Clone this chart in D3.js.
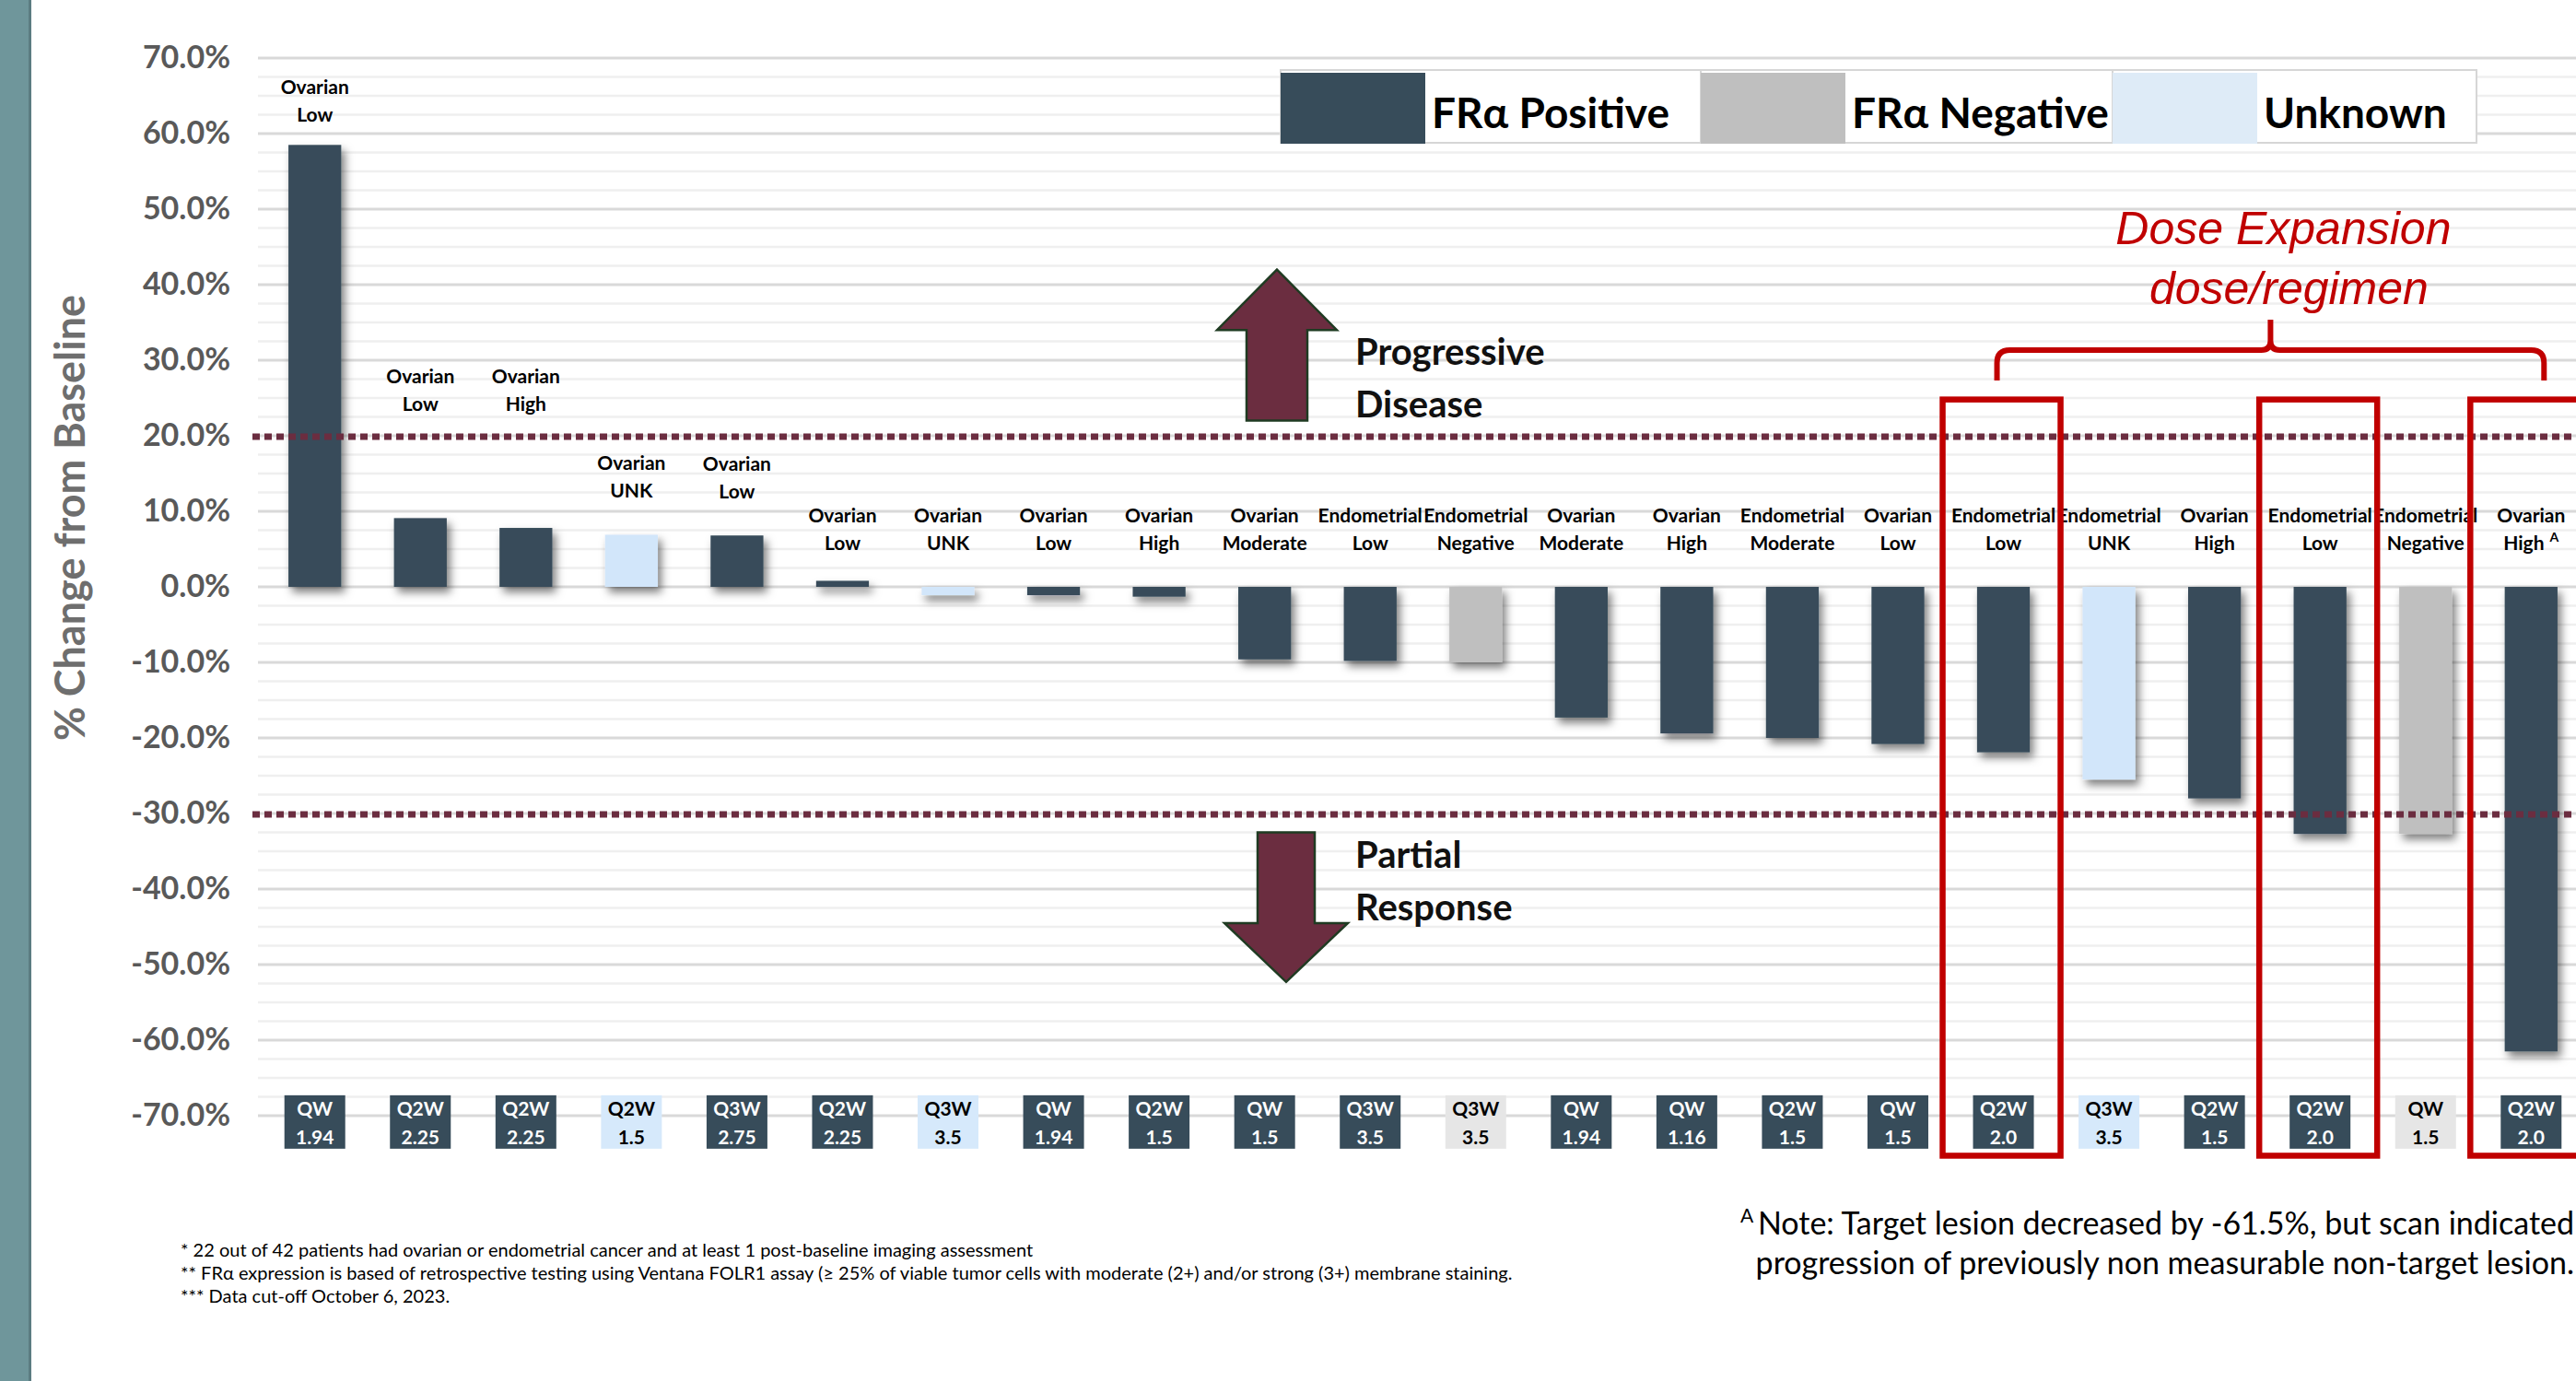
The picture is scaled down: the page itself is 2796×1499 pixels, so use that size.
<!DOCTYPE html>
<html>
<head>
<meta charset="utf-8">
<script src="https://cdn.jsdelivr.net/npm/d3@7"></script>
<style>
    body { margin: 0; background: #fff; }
    svg { display: block; }
</style>
</head>
<body>
<script>
// one entry per patient, ordered as in the waterfall
const cancer = ['Ovarian', 'Ovarian', 'Ovarian', 'Ovarian', 'Ovarian', 'Ovarian', 'Ovarian', 'Ovarian',
    'Ovarian', 'Ovarian', 'Endometrial', 'Endometrial', 'Ovarian', 'Ovarian', 'Endometrial', 'Ovarian',
    'Endometrial', 'Endometrial', 'Ovarian', 'Endometrial', 'Endometrial', 'Ovarian']
const expression = ['Low', 'Low', 'High', 'UNK', 'Low', 'Low', 'UNK', 'Low',
    'High', 'Moderate', 'Low', 'Negative', 'Moderate', 'High', 'Moderate', 'Low',
    'Low', 'UNK', 'High', 'Low', 'Negative', 'High']
const status = ['pos', 'pos', 'pos', 'unk', 'pos', 'pos', 'unk', 'pos',
    'pos', 'pos', 'pos', 'neg', 'pos', 'pos', 'pos', 'pos',
    'pos', 'unk', 'pos', 'pos', 'neg', 'pos']
const regimen = ['QW', 'Q2W', 'Q2W', 'Q2W', 'Q3W', 'Q2W', 'Q3W', 'QW',
    'Q2W', 'QW', 'Q3W', 'Q3W', 'QW', 'QW', 'Q2W', 'QW',
    'Q2W', 'Q3W', 'Q2W', 'Q2W', 'QW', 'Q2W']
const dose = ['1.94', '2.25', '2.25', '1.5', '2.75', '2.25', '3.5', '1.94',
    '1.5', '1.5', '3.5', '3.5', '1.94', '1.16', '1.5', '1.5',
    '2.0', '3.5', '1.5', '2.0', '1.5', '2.0']
const change = [58.5, 9.1, 7.8, 6.9, 6.8, 0.8, -1.1, -1.1,
    -1.3, -9.6, -9.8, -10.0, -17.3, -19.4, -20.0, -20.8,
    -21.9, -25.5, -28.0, -32.7, -32.7, -61.5]
const expansionBars = [16, 19, 21]
const yTicks = [70, 60, 50, 40, 30, 20, 10, 0, -10, -20, -30, -40, -50, -60, -70]
const thresholds = [20, -30]

const legendItems = [
    { key: 'pos', label: 'FRα Positive' },
    { key: 'neg', label: 'FRα Negative' },
    { key: 'unk', label: 'Unknown' }
]

const footnotes = [
    '* 22 out of 42 patients had ovarian or endometrial cancer and at least 1 post-baseline imaging assessment',
    '** FRα expression is based of retrospective testing using Ventana FOLR1 assay (≥ 25% of viable tumor cells with moderate (2+) and/or strong (3+) membrane staining.',
    '*** Data cut-off October 6, 2023.'
]

const barColor = { pos: '#374c5a', neg: '#bfbfbf', unk: '#d2e6fa' }
const boxColor = { pos: '#374c5a', neg: '#e6e6e6', unk: '#d6e9fb' }
const legendColor = { pos: '#374c5a', neg: '#bfbfbf', unk: '#deebf7' }
const red = '#c00000'
const maroon = '#6b2d40'
const FONT = 'Lato, "Open Sans", sans-serif'

const width = 2796
const height = 1499

const svg = d3.select('body').append('svg')
    .attr('width', width)
    .attr('height', height)
    .style('background', '#fff')

const defs = svg.append('defs')
const shadow = defs.append('filter')
    .attr('id', 'shadow')
    .attr('x', '-30%').attr('y', '-30%')
    .attr('width', '160%').attr('height', '160%')
shadow.append('feDropShadow')
    .attr('dx', 4).attr('dy', 6)
    .attr('stdDeviation', 5)
    .attr('flood-color', '#000')
    .attr('flood-opacity', 0.5)

// teal strip at the left edge of the slide
svg.append('rect').attr('x', 0).attr('y', 0).attr('width', 33).attr('height', height).attr('fill', '#6f969b')
svg.append('rect').attr('x', 31).attr('y', 0).attr('width', 3).attr('height', height).attr('fill', '#5b7c81')

const plotLeft = 280

const y = d3.scaleLinear()
    .domain([-70, 70])
    .range([1211, 63])

const x = d3.scaleBand()
    .domain(d3.range(change.length))
    .range([281, 2808])
    .paddingInner(0.5)
    .paddingOuter(0.28)

const cx = i => x(i) + x.bandwidth() / 2

// gridlines: major every 10%, minor every 2.5%
const minor = d3.range(-70, 70.1, 2.5).filter(v => v % 10 !== 0)
svg.append('g').selectAll('line')
    .data(minor)
    .join('line')
    .attr('x1', plotLeft).attr('x2', width)
    .attr('y1', d => y(d)).attr('y2', d => y(d))
    .attr('stroke', '#efefef')
    .attr('stroke-width', 2.5)

svg.append('g').selectAll('line')
    .data(yTicks)
    .join('line')
    .attr('x1', plotLeft).attr('x2', width)
    .attr('y1', d => y(d)).attr('y2', d => y(d))
    .attr('stroke', '#d9d9d9')
    .attr('stroke-width', 3)

// y axis
const yAxis = d3.axisLeft(y)
    .tickValues(yTicks)
    .tickSize(0)
    .tickPadding(30)
    .tickFormat(d => d.toFixed(1) + '%')

const gy = svg.append('g')
    .attr('transform', `translate(${plotLeft},0)`)
    .call(yAxis)
gy.select('.domain').remove()
gy.selectAll('text')
    .attr('font-family', FONT)
    .attr('font-weight', 700)
    .attr('font-size', 34)
    .attr('fill', '#595959')

svg.append('text')
    .attr('transform', 'translate(76,562) rotate(-90)')
    .attr('text-anchor', 'middle')
    .attr('dy', '0.35em')
    .attr('font-family', FONT)
    .attr('font-weight', 700)
    .attr('font-size', 45)
    .attr('fill', '#6e6e6e')
    .text('% Change from Baseline')

// bars
svg.append('g')
    .attr('filter', 'url(#shadow)')
    .selectAll('rect')
    .data(change)
    .join('rect')
    .attr('x', (d, i) => x(i))
    .attr('width', x.bandwidth())
    .attr('y', d => y(Math.max(d, 0)))
    .attr('height', d => Math.abs(y(d) - y(0)))
    .attr('fill', (d, i) => barColor[status[i]])

// threshold lines (PD +20%, PR -30%)
svg.append('g').selectAll('line')
    .data(thresholds)
    .join('line')
    .attr('x1', 274).attr('x2', width)
    .attr('y1', d => y(d) + 1).attr('y2', d => y(d) + 1)
    .attr('stroke', maroon)
    .attr('stroke-width', 7)
    .attr('stroke-dasharray', '8,5')

// category labels above each bar; a few were hand-placed in the source
const labelLevel = { 0: 62.4, 1: 24.1, 2: 24.1, 5: 5.7 }
const labels = svg.append('g')
    .attr('font-family', FONT)
    .attr('font-weight', 700)
    .attr('font-size', 21)
    .attr('text-anchor', 'middle')
    .attr('fill', '#000')
    .selectAll('text')
    .data(change)
    .join('text')
    .attr('x', (d, i) => cx(i))
    .attr('y', (d, i) => i in labelLevel ? y(labelLevel[i]) + 7 : y(Math.max(d, 0)) - 40)

labels.append('tspan')
    .attr('x', (d, i) => cx(i))
    .attr('dy', -30)
    .text((d, i) => cancer[i])
labels.append('tspan')
    .attr('x', (d, i) => cx(i))
    .attr('dy', 30)
    .text((d, i) => expression[i])
labels.filter((d, i) => i === change.length - 1)
    .append('tspan')
    .attr('dx', 6)
    .attr('dy', -9)
    .attr('font-size', 14)
    .text('A')

// regimen / dose boxes along the bottom
const boxTop = y(-67.3)
const boxes = svg.append('g')
    .selectAll('g')
    .data(change)
    .join('g')
    .attr('transform', (d, i) => `translate(${cx(i)},${boxTop})`)

boxes.append('rect')
    .attr('x', -33)
    .attr('width', 66)
    .attr('height', 58)
    .attr('fill', (d, i) => boxColor[status[i]])

boxes.append('text')
    .attr('text-anchor', 'middle')
    .attr('font-family', FONT)
    .attr('font-weight', 700)
    .attr('font-size', 21)
    .attr('fill', (d, i) => status[i] === 'pos' ? '#fff' : '#000')
    .call(t => t.append('tspan').attr('x', 0).attr('y', 22).text((d, i) => regimen[i]))
    .call(t => t.append('tspan').attr('x', 0).attr('y', 53).text((d, i) => dose[i]))

// dose expansion highlight boxes
svg.append('g').selectAll('rect')
    .data(expansionBars)
    .join('rect')
    .attr('x', d => cx(d) - 66)
    .attr('width', 128)
    .attr('y', y(24.8))
    .attr('height', y(-75.3) - y(24.8))
    .attr('fill', 'none')
    .attr('stroke', red)
    .attr('stroke-width', 6.5)

// brace over the expansion group
const bx1 = cx(expansionBars[0]) - 7
const bx2 = cx(expansionBars[expansionBars.length - 1]) + 14
const bm = (bx1 + bx2) / 2
const by = 380
svg.append('path')
    .attr('d', `M${bx1},413 V${by + 14} Q${bx1},${by} ${bx1 + 14},${by} H${bm - 10} Q${bm},${by} ${bm},${by - 10} V347
        M${bm},${by - 10} Q${bm},${by} ${bm + 10},${by} H${bx2 - 14} Q${bx2},${by} ${bx2},${by + 14} V413`)
    .attr('fill', 'none')
    .attr('stroke', red)
    .attr('stroke-width', 6)

svg.append('text')
    .attr('font-family', '"Liberation Sans", Arial, sans-serif')
    .attr('font-style', 'italic')
    .attr('font-size', 50)
    .attr('fill', red)
    .attr('text-anchor', 'middle')
    .call(t => t.append('tspan').attr('x', bm + 14).attr('y', 265).text('Dose Expansion'))
    .call(t => t.append('tspan').attr('x', bm + 20).attr('y', 330).text('dose/regimen'))

// progressive disease / partial response arrows
const upX = 1386
const downX = 1396
const arrowPts = [
    [[upX, y(42)], [upX + 65, y(34)], [upX + 33, y(34)], [upX + 33, y(22)], [upX - 33, y(22)], [upX - 33, y(34)], [upX - 65, y(34)]],
    [[downX - 31, y(-32.5)], [downX + 31, y(-32.5)], [downX + 31, y(-44.5)], [downX + 67, y(-44.5)], [downX, y(-52.3)], [downX - 67, y(-44.5)], [downX - 31, y(-44.5)]]
]
svg.append('g').selectAll('polygon')
    .data(arrowPts)
    .join('polygon')
    .attr('points', d => d.map(p => p.join(',')).join(' '))
    .attr('fill', maroon)
    .attr('stroke', '#1f3b22')
    .attr('stroke-width', 2.5)

const arrowText = [
    { text: 'Progressive', y: 396 },
    { text: 'Disease', y: 453 },
    { text: 'Partial', y: 942 },
    { text: 'Response', y: 999 }
]
svg.append('g').selectAll('text')
    .data(arrowText)
    .join('text')
    .attr('x', 1471)
    .attr('y', d => d.y)
    .attr('font-family', FONT)
    .attr('font-weight', 700)
    .attr('font-size', 40)
    .attr('fill', '#111')
    .text(d => d.text)

// legend
const legend = svg.append('g').attr('transform', 'translate(1390,75)')
const legendX = [0, 456, 903]
const legendW = [456, 447, 395]
const lg = legend.selectAll('g')
    .data(legendItems)
    .join('g')
    .attr('transform', (d, i) => `translate(${legendX[i]},0)`)
lg.append('rect')
    .attr('x', 0).attr('y', 1)
    .attr('width', (d, i) => legendW[i])
    .attr('height', 79)
    .attr('fill', '#fff')
    .attr('stroke', '#d6d6d6')
    .attr('stroke-width', 2)
lg.append('rect')
    .attr('x', 0).attr('y', 4)
    .attr('width', 157).attr('height', 77)
    .attr('fill', d => legendColor[d.key])
lg.append('text')
    .attr('x', 164)
    .attr('y', 64)
    .attr('font-family', FONT)
    .attr('font-weight', 700)
    .attr('font-size', 46)
    .attr('fill', '#000')
    .text(d => d.label)

// footnotes
svg.append('g').selectAll('text')
    .data(footnotes)
    .join('text')
    .attr('x', 196)
    .attr('y', (d, i) => 1364 + i * 25)
    .attr('font-family', FONT)
    .attr('font-size', 20)
    .attr('fill', '#000')
    .text(d => d)

const note = svg.append('text')
    .attr('font-family', FONT)
    .attr('font-size', 34)
    .attr('fill', '#000')
    .attr('text-anchor', 'end')
const n1 = note.append('tspan').attr('x', 2794).attr('y', 1340)
n1.append('tspan').attr('font-size', 21).attr('dy', -13).text('A ')
n1.append('tspan').attr('dy', 13).text('Note: Target lesion decreased by -61.5%, but scan indicated')
note.append('tspan').attr('x', 2794).attr('y', 1383)
    .text('progression of previously non measurable non-target lesion.')
</script>
</body>
</html>
